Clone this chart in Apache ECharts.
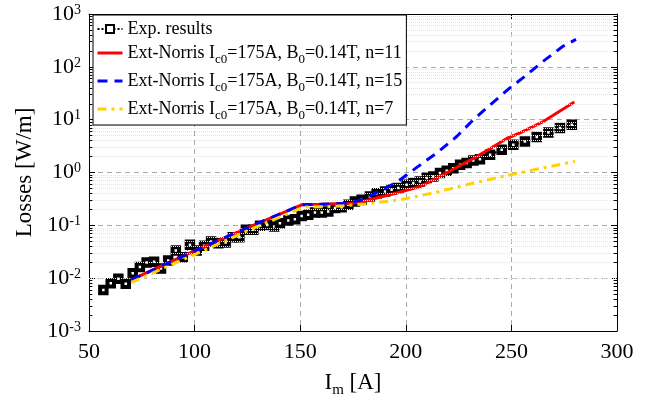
<!DOCTYPE html>
<html>
<head>
<meta charset="utf-8">
<script src="https://cdn.jsdelivr.net/npm/echarts@6/dist/echarts.min.js"></script>
<style>
  html, body { margin: 0; padding: 0; background: #fff; }
  #chart { width: 647px; height: 406px; }
</style>
</head>
<body>
<div id="chart"></div>
<script>
// measured points (current in A, losses in W/m)
var expCurrent = [56.8, 60.3, 63.9, 67.4, 70.7, 74.1, 77.3, 80.8, 84.1, 87.5, 91.1, 94.4, 97.8, 101.0, 104.5,
  107.8, 111.2, 114.7, 118.0, 121.2, 124.3, 127.8, 131.0, 134.4, 137.7, 140.4, 144.4, 147.5, 150.7, 153.8,
  157.0, 160.2, 163.3, 166.5, 169.6, 172.8, 175.9, 179.1, 183.0, 186.2, 190.2, 193.3, 196.4, 200.4, 203.6,
  206.7, 209.9, 213.0, 216.2, 219.4, 222.5, 225.7, 228.8, 232.0, 235.1, 239.9, 245.4, 250.9, 256.4, 262.0,
  267.5, 273.0, 278.6];
var expLoss = [0.0060, 0.0080, 0.0097, 0.0078, 0.0124, 0.0162, 0.0197, 0.0204, 0.0152, 0.0216, 0.0333, 0.0250,
  0.0428, 0.0333, 0.0409, 0.0493, 0.0460, 0.0472, 0.0598, 0.0598, 0.0822, 0.0822, 0.098, 0.102, 0.095, 0.110,
  0.123, 0.131, 0.151, 0.158, 0.175, 0.175, 0.183, 0.212, 0.221, 0.245, 0.282, 0.304, 0.351, 0.407, 0.436,
  0.470, 0.507, 0.585, 0.630, 0.676, 0.783, 0.840, 0.975, 1.08, 1.21, 1.40, 1.51, 1.69, 1.79, 2.16, 2.69,
  3.35, 3.87, 4.68, 5.72, 6.93, 8.00];

// Ext-Norris n=11
var n11Current = [70, 99.4, 124.7, 150.7, 160, 173.6, 180, 186.2, 195.7, 206.7, 220, 233.6, 240, 247.8, 254.1, 265.1, 279.8];
var n11Loss = [0.0093, 0.032, 0.089, 0.245, 0.25, 0.26, 0.285, 0.33, 0.41, 0.54, 1.02, 2.0, 2.85, 4.4, 5.6, 9.2, 21.5];

// Ext-Norris n=15
var n15Current = [70, 99.4, 124.7, 150.7, 160, 172, 180, 186.2, 195.7, 205.2, 214.6, 224.1, 232, 239.9, 249.3, 256.4, 265.0, 274.4, 280.6];
var n15Loss = [0.0093, 0.032, 0.089, 0.245, 0.25, 0.26, 0.31, 0.42, 0.65, 1.25, 2.33, 4.8, 10, 19, 40, 66, 127, 245, 330];

// Ext-Norris n=7
var n7Current = [70, 100, 125, 151.5, 165.7, 181.5, 197.3, 213.0, 228.8, 244.6, 260.4, 280.1];
var n7Loss = [0.0083, 0.028, 0.079, 0.221, 0.227, 0.255, 0.304, 0.41, 0.585, 0.82, 1.12, 1.62];

var xMin = 50, xMax = 300, xStep = 50;
var yMin = 0.001, yMax = 1000;

var serif = "'Liberation Serif', 'Times New Roman', serif";

function pairs(xs, ys) {
  return xs.map(function (x, i) { return [x, ys[i]]; });
}

// minor log grid 2..9 x 10^k
var minorValues = [];
for (var k = -3; k < 3; k++) {
  for (var m = 2; m <= 9; m++) minorValues.push(m * Math.pow(10, k));
}
var minorGrid = minorValues.map(function (v) { return { yAxis: v }; });
var minorTicks = [];
minorValues.forEach(function (v) {
  minorTicks.push([{ coord: [xMin, v] }, { coord: [xMin + 1.6, v] }]);
  minorTicks.push([{ coord: [xMax - 1.6, v] }, { coord: [xMax, v] }]);
});

var legendText = {
  'Exp. results': '{t|Exp. results}',
  'n11': '{t|Ext-Norris I}{s|c0}{t|=175A, B}{s|0}{t|=0.14T, n=11}',
  'n15': '{t|Ext-Norris I}{s|c0}{t|=175A, B}{s|0}{t|=0.14T, n=15}',
  'n7': '{t|Ext-Norris I}{s|c0}{t|=175A, B}{s|0}{t|=0.14T, n=7}'
};
// 线型图例不显示圆点
var noDot = { opacity: 0 };

var myChart = echarts.init(document.getElementById('chart'));

var option = {
  animation: false,
  backgroundColor: '#fff',
  grid: { left: 89, right: 30, top: 14, bottom: 75, containLabel: false },
  legend: {
    z: 20,
    data: [
      { name: 'Exp. results', lineStyle: { width: 2 } },
      { name: 'n11', itemStyle: noDot },
      { name: 'n15', itemStyle: noDot },
      { name: 'n7', itemStyle: noDot }
    ],
    orient: 'vertical',
    left: 93,
    top: 15,
    padding: [5, 4, 3, 3],
    itemGap: 6,
    itemWidth: 25,
    itemHeight: 10,
    lineStyle: { width: 3 },
    backgroundColor: '#fff',
    borderColor: '#000',
    borderWidth: 1,
    borderRadius: 0,
    formatter: function (name) { return legendText[name]; },
    textStyle: {
      color: '#000',
      fontFamily: serif,
      fontSize: 18,
      rich: {
        t: { fontFamily: serif, fontSize: 18, lineHeight: 26, color: '#000' },
        s: { fontFamily: serif, fontSize: 13, lineHeight: 12, verticalAlign: 'bottom', color: '#000' }
      }
    }
  },
  xAxis: [{
    type: 'value',
    min: xMin, max: xMax, interval: xStep,
    name: '{a|I}{s|m}{a| [A]}',
    nameLocation: 'middle',
    nameGap: 37,
    nameTextStyle: {
      rich: {
        a: { fontFamily: serif, fontSize: 23, lineHeight: 30, color: '#000' },
        s: { fontFamily: serif, fontSize: 15, lineHeight: 14, verticalAlign: 'bottom', color: '#000' }
      }
    },
    axisLine: { lineStyle: { color: '#000', width: 1 } },
    axisTick: { inside: true, length: 6, lineStyle: { color: '#000' } },
    axisLabel: { color: '#000', fontFamily: serif, fontSize: 22, margin: 10 },
    splitLine: { show: true, lineStyle: { color: '#aaa', type: [5, 4], width: 1 } }
  }, {
    type: 'value', position: 'top',
    min: xMin, max: xMax, interval: xStep,
    axisLine: { lineStyle: { color: '#000', width: 1 } },
    axisTick: { inside: true, length: 6, lineStyle: { color: '#000' } },
    axisLabel: { show: false },
    splitLine: { show: false }
  }],
  yAxis: [{
    type: 'log', logBase: 10,
    min: yMin, max: yMax, splitNumber: 6,
    name: 'Losses [W/m]',
    nameLocation: 'middle',
    nameGap: 52,
    nameTextStyle: { fontFamily: serif, fontSize: 23, color: '#000' },
    axisLine: { show: true, lineStyle: { color: '#000', width: 1 } },
    axisTick: { show: true, inside: true, length: 6, lineStyle: { color: '#000' } },
    axisLabel: {
      color: '#000',
      margin: 8,
      formatter: function (v) {
        var e = Math.round(Math.log10(v));
        return '{b|10}{e|' + e + '}';
      },
      rich: {
        b: { fontFamily: serif, fontSize: 22, verticalAlign: 'bottom', color: '#000' },
        e: { fontFamily: serif, fontSize: 14, verticalAlign: 'top', color: '#000' }
      }
    },
    splitLine: { show: true, lineStyle: { color: '#aaa', type: [5, 4], width: 1 } }
  }, {
    type: 'log', logBase: 10, position: 'right',
    min: yMin, max: yMax, splitNumber: 6,
    axisLine: { show: true, lineStyle: { color: '#000', width: 1 } },
    axisTick: { show: true, inside: true, length: 6, lineStyle: { color: '#000' } },
    axisLabel: { show: false },
    splitLine: { show: false }
  }],
  series: [
    {
      // minor grid
      name: 'grid', type: 'line', data: [], z: 1, silent: true,
      markLine: {
        silent: true, symbol: ['none', 'none'], label: { show: false },
        lineStyle: { color: '#e4e4e4', type: 'dotted', width: 1 },
        data: minorGrid
      }
    },
    {
      // minor ticks
      name: 'grid2', type: 'line', data: [], z: 1, silent: true,
      markLine: {
        silent: true, symbol: ['none', 'none'], label: { show: false },
        lineStyle: { color: '#000', type: 'solid', width: 1 },
        data: minorTicks
      }
    },
    {
      name: 'Exp. results', type: 'line', z: 3,
      data: pairs(expCurrent, expLoss),
      symbol: 'rect', symbolSize: 6.5, showAllSymbol: true,
      itemStyle: { color: '#fff', borderColor: '#000', borderWidth: 4 },
      lineStyle: { color: '#000', type: 'dotted', width: 2 }
    },
    {
      name: 'n11', type: 'line', z: 4,
      data: pairs(n11Current, n11Loss),
      symbol: 'none',
      itemStyle: { color: '#ff0000' },
      lineStyle: { color: '#ff0000', width: 3 }
    },
    {
      name: 'n15', type: 'line', z: 5,
      data: pairs(n15Current, n15Loss),
      symbol: 'none',
      itemStyle: { color: '#0000ff' },
      lineStyle: { color: '#0000ff', width: 3, type: [10, 7] }
    },
    {
      name: 'n7', type: 'line', z: 6,
      data: pairs(n7Current, n7Loss),
      symbol: 'none',
      itemStyle: { color: '#ffd300' },
      lineStyle: { color: '#ffd300', width: 3, type: [9, 5, 3, 5] }
    }
  ]
};

option && myChart.setOption(option);
</script>
</body>
</html>
